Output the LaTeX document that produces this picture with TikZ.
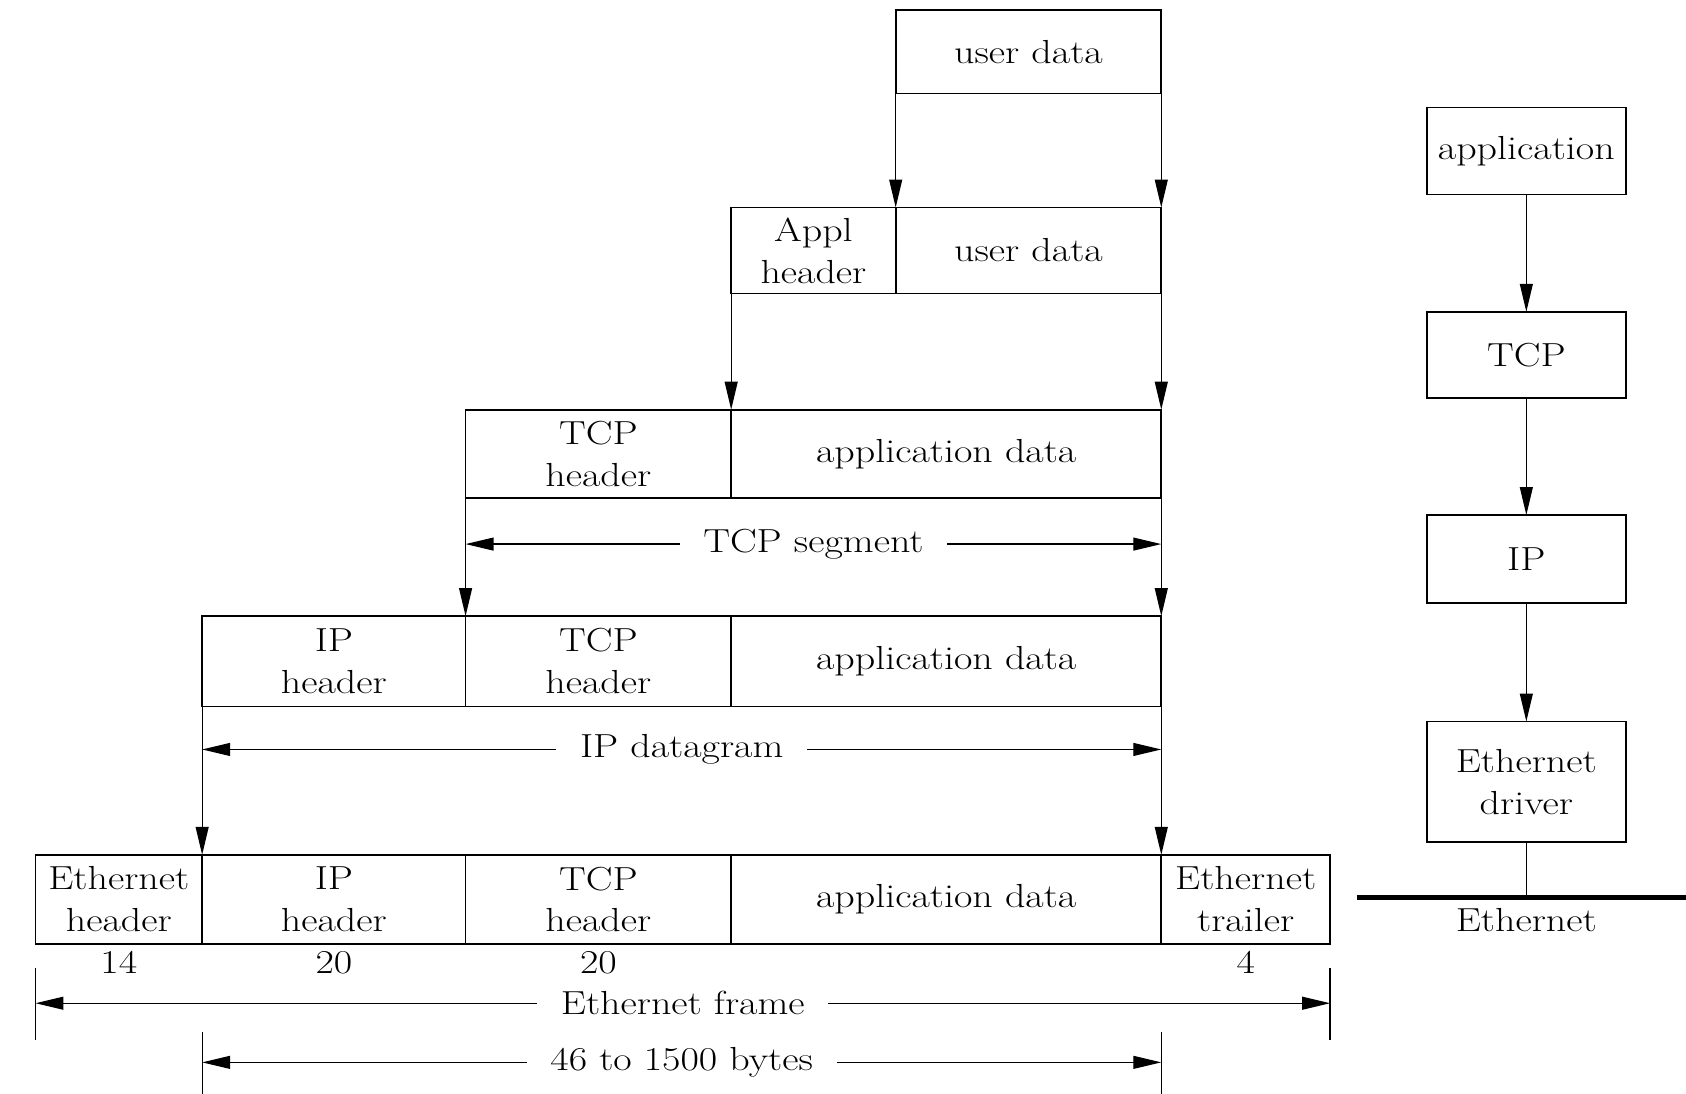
\documentclass[tikz,border=0pt]{standalone}
\usepackage{fontspec}
\setmainfont{Latin Modern Roman}[FakeStretch=1.2]
\usetikzlibrary{arrows.meta}
\begin{document}
\begin{tikzpicture}[x=1pt,y=-1pt,
  txt/.style={font=\fontsize{31}{39}\selectfont},
  fld/.style={txt, draw, line width=1.6pt, inner sep=0pt, outer sep=0pt, align=center},
  conn/.style={line width=1.2pt},
  tip/.tip={Triangle[length=26pt,width=12pt]},
  arr/.style={conn, -tip},
  dimarr/.style={conn, tip-tip},
  gap/.style={txt, fill=white, inner xsep=22pt, inner ysep=2pt},
  num/.style={txt, inner sep=0pt},
  bus/.style={line width=4.5pt}
]
\useasboundingbox (0,0) rectangle (1568,1017);

% row 1
\node[fld, minimum width=247pt, minimum height=78pt] (ud1) at (956.5,48) {user data};
% row 2
\node[fld, minimum width=153pt, minimum height=80pt] (ah2) at (756.5,233) {Appl\\header};
\node[fld, minimum width=247pt, minimum height=80pt] (ud2) at (956.5,233) {user data};
% row 3
\node[fld, minimum width=247pt, minimum height=82pt] (th3) at (556.5,422) {TCP\\header};
\node[fld, minimum width=400pt, minimum height=82pt] (ad3) at (880,422) {application data};
% row 4
\node[fld, minimum width=245pt, minimum height=84pt] (ih4) at (310.5,615) {IP\\header};
\node[fld, minimum width=247pt, minimum height=84pt] (th4) at (556.5,615) {TCP\\header};
\node[fld, minimum width=400pt, minimum height=84pt] (ad4) at (880,615) {application data};
% row 5
\node[fld, minimum width=155pt, minimum height=83pt] (eh5) at (110.5,836.5) {Ethernet\\header};
\node[fld, minimum width=245pt, minimum height=83pt] (ih5) at (310.5,836.5) {IP\\header};
\node[fld, minimum width=247pt, minimum height=83pt] (th5) at (556.5,836.5) {TCP\\header};
\node[fld, minimum width=400pt, minimum height=83pt] (ad5) at (880,836.5) {application data};
\node[fld, minimum width=157pt, minimum height=83pt] (et5) at (1158.5,836.5) {Ethernet\\trailer};

% sizes
\node[num] (n14) at (110.5,895) {14};
\node[num] (n20a) at (310.5,895) {20};
\node[num] (n20b) at (556.5,895) {20};
\node[num] (n4) at (1158.5,895) {4};

% encapsulation arrows
\draw[arr] (ud1.south west) -- (ud2.north west);
\draw[arr] (ud1.south east) -- (ud2.north east);
\draw[arr] (ah2.south west) -- (th3.north east);
\draw[arr] (ud2.south east) -- (ad3.north east);
\draw[arr] (th3.south west) -- (th4.north west);
\draw[arr] (ad3.south east) -- (ad4.north east);
\draw[arr] (ih4.south west) -- (ih5.north west);
\draw[arr] (ad4.south east) -- (ad5.north east);

% dimension arrows
\coordinate (tsl) at (433,506);
\coordinate (tsr) at (1080,506);
\draw[dimarr] (tsl) -- (tsr) node[midway, gap] (tslab) {TCP segment};

\coordinate (ipl) at (188,697);
\coordinate (ipr) at (1080,697);
\draw[dimarr] (ipl) -- (ipr) node[midway, gap] (iplab) {IP datagram};

\coordinate (eft1) at (33,900);
\coordinate (efb1) at (33,967);
\coordinate (eft2) at (1237,900);
\coordinate (efb2) at (1237,967);
\coordinate (efl) at (33,933);
\coordinate (efr) at (1237,933);
\draw[conn] (eft1) -- (efb1);
\draw[conn] (eft2) -- (efb2);
\draw[dimarr] (efl) -- (efr) node[midway, gap] (eflab) {Ethernet frame};

\coordinate (bt1) at (188,960);
\coordinate (bb1) at (188,1017);
\coordinate (bt2) at (1080,960);
\coordinate (bb2) at (1080,1017);
\coordinate (bl) at (188,988);
\coordinate (br) at (1080,988);
\draw[conn] (bt1) -- (bb1);
\draw[conn] (bt2) -- (bb2);
\draw[dimarr] (bl) -- (br) node[midway, gap] (blab) {46 to 1500 bytes};

% protocol stack
\node[fld, minimum width=185pt, minimum height=81pt] (app) at (1419.5,140.5) {application};
\node[fld, minimum width=185pt, minimum height=80pt] (tcp) at (1419.5,330) {TCP};
\node[fld, minimum width=185pt, minimum height=82pt] (ip) at (1419.5,520) {IP};
\node[fld, minimum width=185pt, minimum height=112pt] (drv) at (1419.5,727) {Ethernet\\driver};
\draw[arr] (app) -- (tcp);
\draw[arr] (tcp) -- (ip);
\draw[arr] (ip) -- (drv);
\coordinate (busl) at (1262,835);
\coordinate (busr) at (1568,835);
\coordinate (tap) at (1419.5,835);
\draw[bus] (busl) -- (busr);
\draw[conn] (drv.south) -- (tap);
\node[num] (ethlab) at (1419.5,856) {Ethernet};
\end{tikzpicture}
\end{document}
